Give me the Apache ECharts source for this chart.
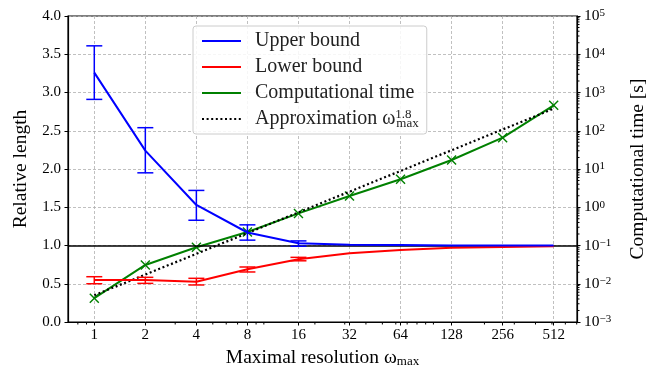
<!DOCTYPE html>
<html>
<head>
<meta charset="utf-8">
<script src="https://cdn.jsdelivr.net/npm/echarts@6/dist/echarts.min.js"></script>
<style>
  html, body { margin: 0; padding: 0; background: #fff; }
  #chart { width: 669px; height: 369px; }
</style>
</head>
<body>
<div id="chart"></div>
<script>
// data
var resolution = [1, 2, 4, 8, 16, 32, 64, 128, 256, 512];
var upperMean = [3.26, 2.24, 1.53, 1.17, 1.03, 1.01, 1.005, 1.0, 1.0, 1.0];
var upperLow = [2.91, 1.95, 1.33, 1.07, 0.99];
var upperHigh = [3.61, 2.54, 1.72, 1.27, 1.06];
var lowerMean = [0.55, 0.55, 0.527, 0.69, 0.82, 0.90, 0.94, 0.97, 0.98, 0.99];
var lowerLow = [0.50, 0.505, 0.484, 0.654, 0.80];
var lowerHigh = [0.592, 0.584, 0.571, 0.719, 0.845];
var compTime = [0.0042, 0.031, 0.09, 0.225, 0.69, 1.97, 5.4, 17.2, 65.8, 462];
var approxTime = [0.005, 0.0174, 0.0606, 0.211, 0.735, 2.56, 8.9, 31, 108, 376];
var refLevel = 1;
// minor tick values
var xMinorTicks = [0.8, 0.9, 3, 5, 6, 7, 9, 10, 20, 30, 40, 50, 60, 70, 80, 90, 100, 200, 300, 400, 500, 600, 700];
var yMinorTicks = [];
[1e-3, 1e-2, 1e-1, 1, 10, 100, 1000, 10000].forEach(function (d) {
    [2, 3, 4, 5, 6, 7, 8, 9].forEach(function (m) { yMinorTicks.push(d * m); });
});

var FONT = 'Liberation Serif';
var xMin = Math.pow(2, -0.515), xMax = Math.pow(2, 9.457);

var myChart = echarts.init(document.getElementById('chart'));

function zip(xs, a, b) {
    return a.map(function (v, i) { return b ? [xs[i], v, b[i]] : [xs[i], v]; });
}

function errorBars(color) {
    return function (params, api) {
        var x = api.value(0);
        var lo = api.coord([x, api.value(1)]);
        var hi = api.coord([x, api.value(2)]);
        var w = 8, st = {stroke: color, lineWidth: 1.5};
        return {
            type: 'group',
            children: [
                {type: 'line', shape: {x1: lo[0], y1: lo[1], x2: hi[0], y2: hi[1]}, style: st},
                {type: 'line', shape: {x1: lo[0] - w, y1: lo[1], x2: lo[0] + w, y2: lo[1]}, style: st},
                {type: 'line', shape: {x1: hi[0] - w, y1: hi[1], x2: hi[0] + w, y2: hi[1]}, style: st}
            ]
        };
    };
}

var crossPath = 'path://M0,1L1,0L5,4L9,0L10,1L6,5L10,9L9,10L5,6L1,10L0,9L4,5Z';

var option = {
    animation: false,
    grid: {
        left: 68, right: 92, top: 16, bottom: 47,
        containLabel: false, outerBoundsMode: 'none',
        show: true, borderColor: '#000', borderWidth: 1.2
    },
    legend: {
        orient: 'vertical',
        left: 193,
        top: 26,
        itemWidth: 39,
        itemHeight: 14,
        itemGap: 4,
        padding: [4, 8, 4, 8],
        borderColor: '#cccccc',
        borderWidth: 1,
        borderRadius: 3,
        backgroundColor: 'rgba(255,255,255,0.85)',
        itemStyle: {opacity: 0},
        data: ['Upper bound', 'Lower bound', 'Computational time', 'Approximation'],
        formatter: function (name) {
            if (name === 'Approximation') return 'Approximation ω{sup|1.8}{sub|max}';
            return name;
        },
        textStyle: {
            fontFamily: FONT, fontSize: 20, color: '#222', lineHeight: 22, padding: [0, 0, 0, 9],
            rich: {
                sup: {fontFamily: FONT, fontSize: 13, lineHeight: 13, verticalAlign: 'top', width: 1, color: '#222'},
                sub: {fontFamily: FONT, fontSize: 13, lineHeight: 13, verticalAlign: 'bottom', color: '#222'}
            }
        }
    },
    xAxis: {
        type: 'log',
        logBase: 2,
        min: xMin,
        max: xMax,
        name: 'Maximal resolution ω{sub|max}',
        nameLocation: 'middle',
        nameGap: 24,
        nameTextStyle: {
            fontFamily: FONT, fontSize: 19.5, color: '#000',
            rich: {sub: {fontFamily: FONT, fontSize: 13, verticalAlign: 'bottom', lineHeight: 12, color: '#000'}}
        },
        axisLine: {lineStyle: {color: '#000', width: 1.2}},
        axisTick: {length: 3.5, lineStyle: {color: '#000', width: 1}},
        axisLabel: {
            fontFamily: FONT, fontSize: 15, color: '#000', margin: 6,
            showMinLabel: false, showMaxLabel: false,
            formatter: function (v) { return String(Math.round(v)); }
        },
        splitLine: {show: true, lineStyle: {color: '#b0b0b0', width: 0.8, type: [3, 2]}}
    },
    yAxis: [{
        type: 'value',
        min: 0,
        max: 4,
        interval: 0.5,
        name: 'Relative length',
        nameLocation: 'middle',
        nameGap: 37,
        nameTextStyle: {fontFamily: FONT, fontSize: 19.5, color: '#000'},
        axisLine: {show: true, lineStyle: {color: '#000', width: 1.2}},
        axisTick: {show: true, length: 3.5, lineStyle: {color: '#000', width: 1}},
        axisLabel: {
            fontFamily: FONT, fontSize: 15, color: '#000', margin: 7,
            formatter: function (v) { return v.toFixed(1); }
        },
        splitLine: {show: true, lineStyle: {color: '#b0b0b0', width: 0.8, type: [3, 2]}}
    }, {
        type: 'log',
        logBase: 10,
        min: 1e-3,
        max: 1e5,
        position: 'right',
        name: 'Computational time [s]',
        nameLocation: 'middle',
        nameRotate: 90,
        nameGap: 51,
        nameTextStyle: {fontFamily: FONT, fontSize: 19.5, color: '#000'},
        axisLine: {show: true, lineStyle: {color: '#000', width: 1.2}},
        axisTick: {show: true, length: 3.5, lineStyle: {color: '#000', width: 1}},
        axisLabel: {
            fontFamily: FONT, fontSize: 15.5, color: '#000', margin: 7,
            formatter: function (v) {
                var e = Math.round(Math.log(v) / Math.LN10);
                return '10{sup|' + (e < 0 ? '−' + (-e) : e) + '}';
            },
            rich: {sup: {fontFamily: FONT, fontSize: 11, lineHeight: 11, verticalAlign: 'top', color: '#000'}}
        },
        splitLine: {show: false}
    }],
    series: [
        {
            name: 'Computational time',
            type: 'line',
            yAxisIndex: 1,
            data: zip(resolution, compTime),
            symbol: crossPath,
            symbolSize: 10,
            lineStyle: {color: '#008000', width: 2},
            itemStyle: {color: '#008000'},
            z: 3
        },
        {
            name: 'Approximation',
            type: 'line',
            yAxisIndex: 1,
            data: zip(resolution, approxTime),
            symbol: 'none',
            lineStyle: {color: '#000', width: 2.2, type: [2, 2.6]},
            itemStyle: {color: '#000'},
            z: 4
        },
        {
            name: 'Lower bound',
            type: 'line',
            data: zip(resolution, lowerMean),
            symbol: 'none',
            lineStyle: {color: '#ff0000', width: 2},
            itemStyle: {color: '#ff0000'},
            z: 5
        },
        {
            name: 'Upper bound',
            type: 'line',
            data: zip(resolution, upperMean),
            symbol: 'none',
            lineStyle: {color: '#0000ff', width: 2},
            itemStyle: {color: '#0000ff'},
            markLine: {
                silent: true,
                symbol: 'none',
                label: {show: false},
                lineStyle: {color: '#000', width: 1.5, type: 'solid'},
                data: [{yAxis: refLevel}]
            },
            z: 6
        },
        {
            type: 'custom',
            renderItem: errorBars('#ff0000'),
            data: zip(resolution, lowerLow, lowerHigh),
            encode: {x: 0, y: [1, 2]},
            z: 5
        },
        {
            type: 'custom',
            renderItem: errorBars('#0000ff'),
            data: zip(resolution, upperLow, upperHigh),
            encode: {x: 0, y: [1, 2]},
            z: 6
        },
        {
            type: 'custom',
            silent: true,
            clip: false,
            data: xMinorTicks.map(function (v) { return [v, 0]; }),
            renderItem: function (params, api) {
                var p = api.coord([api.value(0), 0]);
                return {type: 'line', shape: {x1: p[0], y1: p[1], x2: p[0], y2: p[1] + 2.5},
                    style: {stroke: '#000', lineWidth: 1}};
            },
            z: 7
        },
        {
            type: 'custom',
            silent: true,
            clip: false,
            yAxisIndex: 1,
            data: yMinorTicks.map(function (v) { return [resolution[0], v]; }),
            renderItem: function (params, api) {
                var cs = params.coordSys;
                var y = api.coord([api.value(0), api.value(1)])[1];
                var x = cs.x + cs.width;
                return {type: 'line', shape: {x1: x, y1: y, x2: x + 2.5, y2: y},
                    style: {stroke: '#000', lineWidth: 1}};
            },
            z: 7
        }
    ]
};

myChart.setOption(option);
</script>
</body>
</html>
